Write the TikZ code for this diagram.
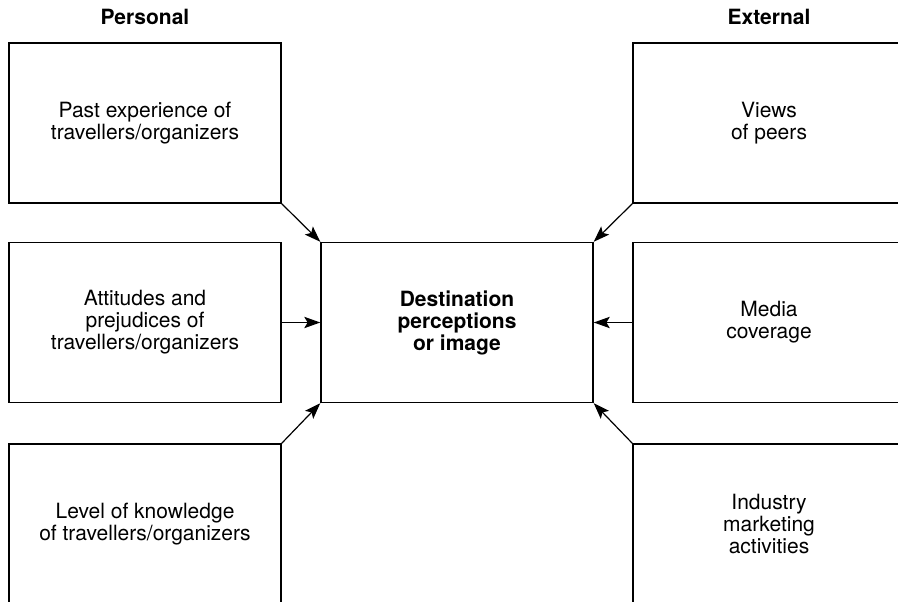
\documentclass[tikz,border=0pt]{standalone}
\usepackage{fontspec}
\setmainfont{TeX Gyre Heros}
\usetikzlibrary{arrows.meta}

\begin{document}
\begin{tikzpicture}[x=0.75pt, y=-0.75pt,
  every node/.style={font=\fontsize{15.75pt}{16.5pt}\selectfont},
  box/.style={draw, rectangle, line width=1.1pt, minimum width=204pt, minimum height=120pt, align=center, inner sep=0pt},
  head/.style={font=\fontsize{15.75pt}{16.5pt}\selectfont\bfseries},
  arr/.style={line width=0.9pt, -{Stealth[length=12pt, width=8.5pt, inset=2.5pt]}}]
\clip (0,0) rectangle (898,602);

\node[head] (personal) at (145,17) {Personal};
\node[head] (external) at (769,17) {External};

\node[box] (past) at (145,123) {Past experience of\\travellers/organizers};
\node[box] (attitudes) at (145,322.5) {Attitudes and\\prejudices of\\travellers/organizers};
\node[box] (knowledge) at (145,524) {Level of knowledge\\of travellers/organizers};

\node[box, font=\fontsize{15.75pt}{16.5pt}\selectfont\bfseries] (dest) at (457,322.5) {Destination\\perceptions\\or image};

\node[box] (peers) at (769,123) {Views\\of peers};
\node[box] (media) at (769,322.5) {Media\\coverage};
\node[box] (industry) at (769,524) {Industry\\marketing\\activities};

\draw[arr] (past.south east) -- (dest.north west);
\draw[arr] (attitudes.east) -- (dest.west);
\draw[arr] (knowledge.north east) -- (dest.south west);

\draw[arr] (peers.south west) -- (dest.north east);
\draw[arr] (media.west) -- (dest.east);
\draw[arr] (industry.north west) -- (dest.south east);

\end{tikzpicture}
\end{document}
